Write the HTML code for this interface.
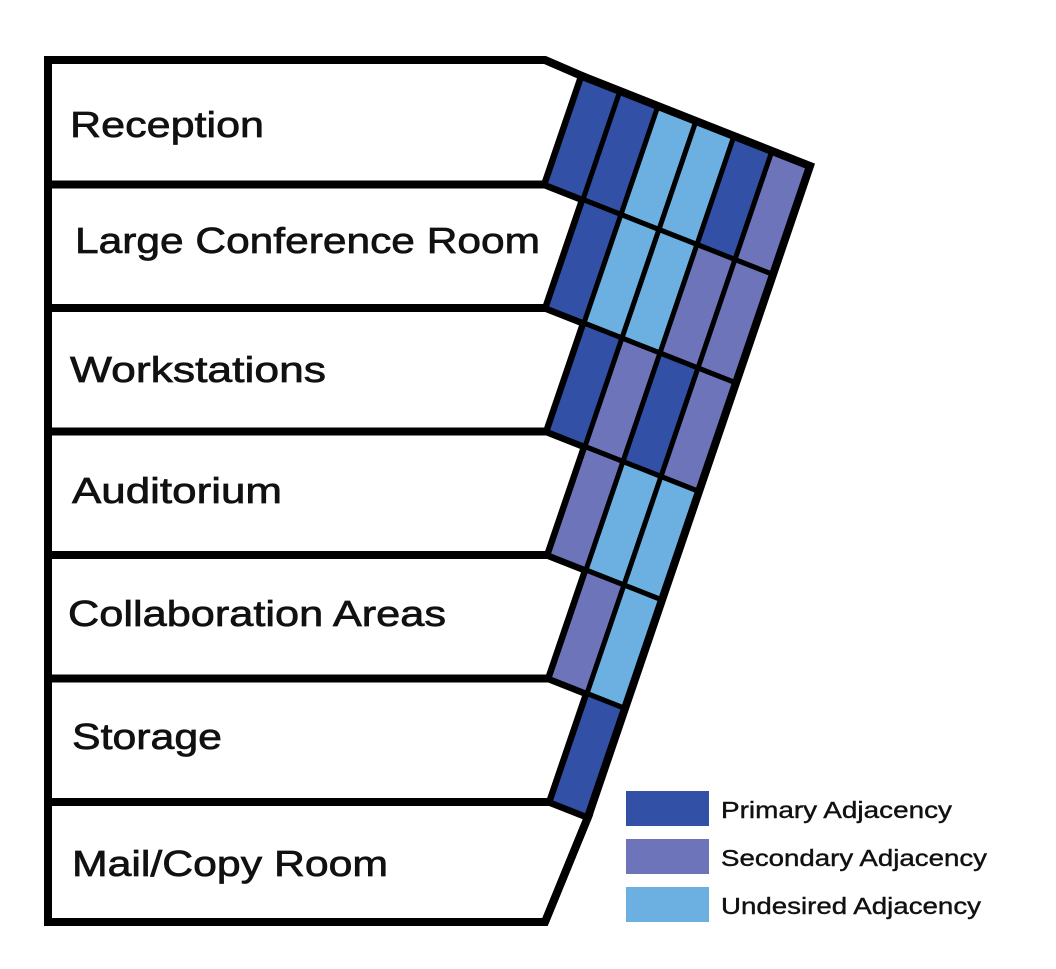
<!DOCTYPE html>
<html><head><meta charset="utf-8"><style>
html,body{margin:0;padding:0;background:#fff;}
svg{display:block;}
text{font-family:"Liberation Sans",sans-serif;fill:#111;}
</style></head><body>
<svg width="1056" height="969" viewBox="0 0 1056 969" xmlns="http://www.w3.org/2000/svg">
<g fill="#fff" stroke="#000" stroke-width="8" stroke-linejoin="miter">
<polygon points="48,60 545,60 582,76 545,184.5 48,184.5"/>
<polygon points="48,184.5 545,184.5 583,199.5 546,308 48,308"/>
<polygon points="48,308 546,308 584,323 547,431.5 48,431.5"/>
<polygon points="48,431.5 547,431.5 585,446.5 548,555 48,555"/>
<polygon points="48,555 548,555 586,570 549,678.5 48,678.5"/>
<polygon points="48,678.5 549,678.5 587,693.5 550,802 48,802"/>
<polygon points="48,802 550,802 588,817 545,922 48,922"/>
</g>
<g stroke="#000" stroke-width="5" stroke-linejoin="miter">
<polygon fill="#3250a5" points="582,76 620,91 583,199.5 545,184.5"/>
<polygon fill="#3250a5" points="620,91 658,106 621,214.5 583,199.5"/>
<polygon fill="#6bb0e0" points="658,106 696,121 659,229.5 621,214.5"/>
<polygon fill="#6bb0e0" points="696,121 734,136 697,244.5 659,229.5"/>
<polygon fill="#3250a5" points="734,136 772,151 735,259.5 697,244.5"/>
<polygon fill="#6e74b9" points="772,151 810,166 773,274.5 735,259.5"/>
<polygon fill="#3250a5" points="583,199.5 621,214.5 584,323 546,308"/>
<polygon fill="#6bb0e0" points="621,214.5 659,229.5 622,338 584,323"/>
<polygon fill="#6bb0e0" points="659,229.5 697,244.5 660,353 622,338"/>
<polygon fill="#6e74b9" points="697,244.5 735,259.5 698,368 660,353"/>
<polygon fill="#6e74b9" points="735,259.5 773,274.5 736,383 698,368"/>
<polygon fill="#3250a5" points="584,323 622,338 585,446.5 547,431.5"/>
<polygon fill="#6e74b9" points="622,338 660,353 623,461.5 585,446.5"/>
<polygon fill="#3250a5" points="660,353 698,368 661,476.5 623,461.5"/>
<polygon fill="#6e74b9" points="698,368 736,383 699,491.5 661,476.5"/>
<polygon fill="#6e74b9" points="585,446.5 623,461.5 586,570 548,555"/>
<polygon fill="#6bb0e0" points="623,461.5 661,476.5 624,585 586,570"/>
<polygon fill="#6bb0e0" points="661,476.5 699,491.5 662,600 624,585"/>
<polygon fill="#6e74b9" points="586,570 624,585 587,693.5 549,678.5"/>
<polygon fill="#6bb0e0" points="624,585 662,600 625,708.5 587,693.5"/>
<polygon fill="#3250a5" points="587,693.5 625,708.5 588,817 550,802"/>
</g>
<polyline fill="none" stroke="#000" stroke-width="8" stroke-linejoin="miter" points="545,60 582,76 810,166 588,817 545,922"/>
<g font-size="36" stroke="#111" stroke-width="0.7">
<text x="70" y="137" textLength="194" lengthAdjust="spacingAndGlyphs">Reception</text>
<text x="75" y="253" textLength="465" lengthAdjust="spacingAndGlyphs">Large Conference Room</text>
<text x="70" y="382" textLength="256" lengthAdjust="spacingAndGlyphs">Workstations</text>
<text x="72" y="503" textLength="210" lengthAdjust="spacingAndGlyphs">Auditorium</text>
<text x="68" y="626" textLength="378" lengthAdjust="spacingAndGlyphs">Collaboration Areas</text>
<text x="72" y="749" textLength="150" lengthAdjust="spacingAndGlyphs">Storage</text>
<text x="72" y="876" textLength="316" lengthAdjust="spacingAndGlyphs">Mail/Copy Room</text>
</g>
<rect x="626" y="791" width="83" height="35" fill="#3250a5"/>
<rect x="626" y="839" width="83" height="35" fill="#6e74b9"/>
<rect x="626" y="887" width="83" height="35" fill="#6bb0e0"/>
<g font-size="23" stroke="#111" stroke-width="0.4">
<text x="721" y="818" textLength="231" lengthAdjust="spacingAndGlyphs">Primary Adjacency</text>
<text x="721" y="866" textLength="266" lengthAdjust="spacingAndGlyphs">Secondary Adjacency</text>
<text x="721" y="914" textLength="260" lengthAdjust="spacingAndGlyphs">Undesired Adjacency</text>
</g>
</svg>
</body></html>
